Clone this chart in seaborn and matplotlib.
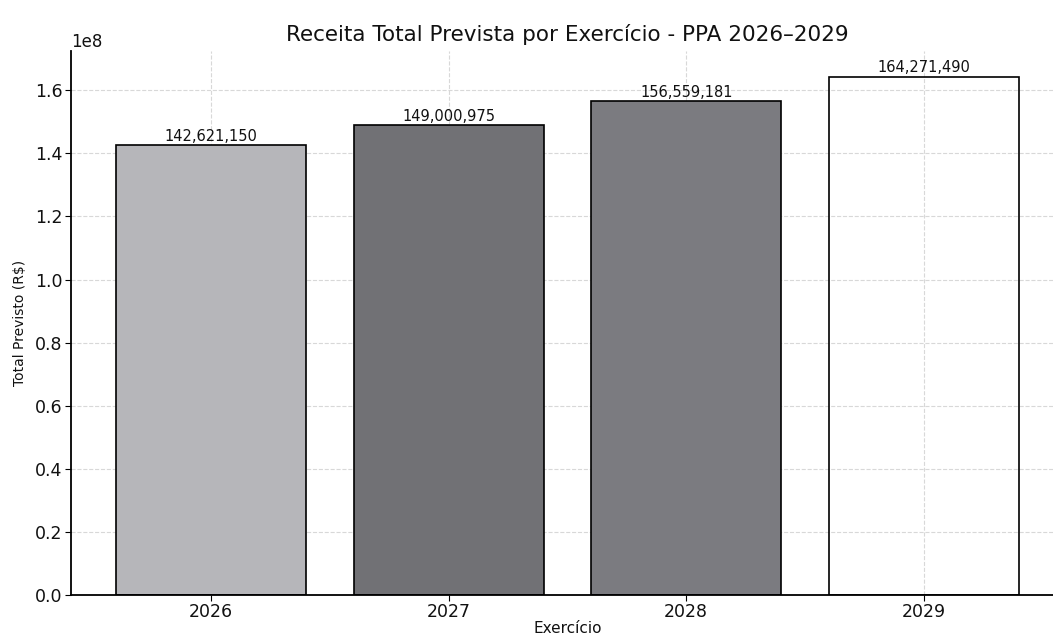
import matplotlib
matplotlib.use("Agg")
import matplotlib.pyplot as plt
import seaborn as sns
import pandas as pd

years = ["2026", "2027", "2028", "2029"]
totals = [142621150, 149000975, 156559181, 164271490]
bar_colors = ["#b6b6ba", "#717175", "#7b7b80", "#ffffff"]

sns.set_style("white")
plt.rcParams["font.family"] = ["DejaVu Sans"]
plt.rcParams["text.color"] = "#111111"
plt.rcParams["axes.labelcolor"] = "#111111"
plt.rcParams["xtick.color"] = "#111111"
plt.rcParams["ytick.color"] = "#111111"

df = pd.DataFrame({"Exercício": years, "Total": totals})

fig = plt.figure(figsize=(10.53, 6.37), dpi=100)
ax = fig.add_axes([0.0674, 0.066, 0.943, 0.854])

sns.barplot(data=df, x="Exercício", y="Total", hue="Exercício", palette=bar_colors,
            legend=False, edgecolor="black", linewidth=1.2, width=0.8, saturation=1, ax=ax)

# last bar appears transparent (grid visible through)
ax.patches[3].set_facecolor((1, 1, 1, 0))

for c in ax.containers:
    ax.bar_label(c, labels=[f"{v:,.0f}" for v in c.datavalues], fontsize=10.5, padding=1)

ax.set_xlim(-0.59, 3.59)
ax.set_ylim(0, max(totals) * 1.05)
ax.set_axisbelow(True)
ax.grid(True, linestyle="--", color="#cfcfcf", linewidth=0.8, alpha=0.8)

for s in ["top", "right"]:
    ax.spines[s].set_visible(False)
for s in ["left", "bottom"]:
    ax.spines[s].set_color("black")
    ax.spines[s].set_linewidth(1.3)

ax.tick_params(axis="both", which="both", direction="out", length=4, color="black",
               left=True, bottom=True, labelsize=12.5, pad=2)
ax.yaxis.get_offset_text().set_fontsize(12)

ax.set_title("Receita Total Prevista por Exercício - PPA 2026–2029", fontsize=15.5, pad=7)
ax.set_xlabel("Exercício", fontsize=11, labelpad=0)
ax.set_ylabel("Total Previsto (R$)", fontsize=10, labelpad=6)

fig.savefig("out.png", dpi=100)
